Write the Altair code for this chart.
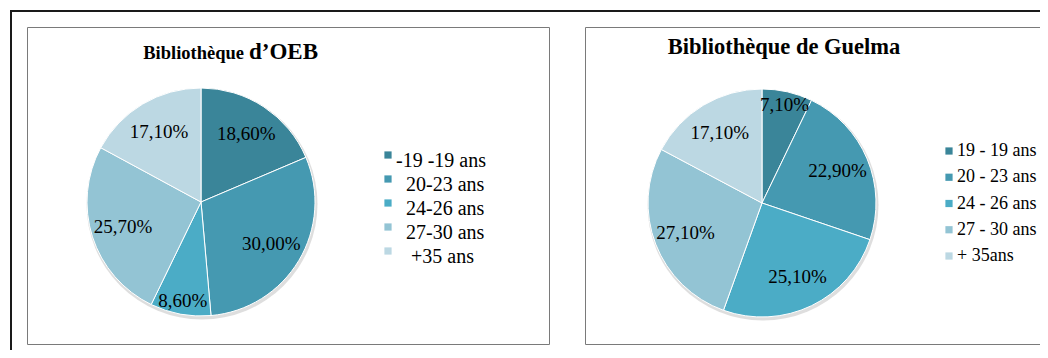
import altair as alt
import pandas as pd

# ---- data ----
cats_oeb = ["-19 -19 ans", "20-23 ans", "24-26 ans", "27-30 ans", "+35 ans"]
vals_oeb = [18.6, 30.0, 8.6, 25.7, 17.1]

cats_guelma = ["19 - 19 ans", "20 - 23 ans", "24 - 26 ans", "27 - 30 ans", "+ 35ans"]
vals_guelma = [7.1, 22.9, 25.1, 27.1, 17.1]

colors = ["#3a8599", "#4599b1", "#4bacc6", "#93c4d4", "#bcd8e3"]

FONT = "Liberation Serif"

df_oeb = pd.DataFrame({"cat": cats_oeb, "value": vals_oeb, "idx": range(len(cats_oeb))})
df_gue = pd.DataFrame({"cat": cats_guelma, "value": vals_guelma, "idx": range(len(cats_guelma))})
one = pd.DataFrame({"k": [0]})


def pie(df, cats, cx, cy, r, leg_sq_x, leg_txt_x, leg_y0, leg_y1, lsize, sq_dy, indent_expr):
    color = alt.Color("cat:N", scale=alt.Scale(domain=cats, range=colors), legend=None)
    arcs = alt.Chart(df).mark_arc(radius=r, stroke="white", strokeWidth=1).encode(
        theta=alt.Theta("value:Q", stack=True),
        order=alt.Order("idx:Q"),
        color=color,
        x=alt.value(cx), y=alt.value(cy),
    )
    shadow = alt.Chart(one).mark_arc(
        theta=0, theta2=6.2832, radius=r + 1.5, color="#c8c8c8", opacity=0.6
    ).encode(x=alt.value(cx + 1), y=alt.value(cy + 2))
    texts = alt.Chart(df).transform_window(
        cum="sum(value)", sort=[alt.SortField("idx")], frame=[None, 0]
    ).transform_joinaggregate(
        total="sum(value)"
    ).transform_calculate(
        mid="(datum.cum - datum.value / 2) / datum.total * 2 * PI",
        lab="replace(format(datum.value, '.2f'), '.', ',') + '%'",
        lr="datum.value < 10 ? 101 : 82",
    ).mark_text(font=FONT, fontSize=19, color="black").encode(
        theta=alt.Theta("mid:Q", scale=None),
        radius=alt.Radius("lr:Q", scale=None),
        text="lab:N",
        x=alt.value(cx), y=alt.value(cy),
    )
    ly = alt.Y("idx:O", scale=alt.Scale(type="point", range=[leg_y0, leg_y1], padding=0), axis=None)
    leg_sq = alt.Chart(df).mark_square(size=52, opacity=1, yOffset=sq_dy).encode(
        y=ly, x=alt.value(leg_sq_x), color=color
    )
    leg_txt = alt.Chart(df).transform_calculate(
        lx=f"{leg_txt_x} + ({indent_expr})"
    ).mark_text(
        font=FONT, fontSize=lsize, color="black", align="left", baseline="middle"
    ).encode(y=ly, x=alt.X("lx:Q", scale=None, axis=None), text="cat:N")
    return alt.layer(shadow, arcs, texts, leg_sq, leg_txt)


def box(x1, y1, x2, y2, color, w):
    return alt.Chart(one).mark_rect(
        fillOpacity=0, stroke=color, strokeWidth=w
    ).encode(x=alt.value(x1), x2=alt.value(x2), y=alt.value(y1), y2=alt.value(y2))


def label(txt, x, y, size, align):
    return alt.Chart(one).mark_text(
        text=txt, font=FONT, fontSize=size, fontWeight="bold", color="black",
        align=align, baseline="alphabetic"
    ).encode(x=alt.value(x), y=alt.value(y))


outer = box(3, 3, 1080, 380, "#1a1a1a", 2)
box_l = box(19.5, 19.5, 541.5, 336.5, "#7a7a7a", 1)
box_r = box(577.5, 19.5, 1080, 336.5, "#7a7a7a", 1)

t1 = label("Bibliothèque", 236, 51, 18.5, "right")
t2 = label("d\u2019OEB", 241, 51, 23, "left")
t3 = label("Bibliothèque de Guelma", 776, 46, 22.5, "center")

pie_l = pie(df_oeb, cats_oeb, 193, 194, 114, 380, 388, 153, 249, 20, -6,
            "datum.idx == 0 ? 0 : (datum.idx == 4 ? 15 : 10)")
pie_r = pie(df_gue, cats_guelma, 754, 195, 114, 941, 949, 143, 248, 18, 0, "0")

chart = alt.layer(
    outer, box_l, box_r, t1, t2, t3, pie_l, pie_r
).resolve_scale(
    theta="independent", color="independent", y="independent", x="independent"
).properties(
    width=1032, height=342, padding=0, autosize="none", background="white"
).configure_view(stroke=None)

chart.save("out.html", embed_options={"renderer": "svg", "actions": False})
